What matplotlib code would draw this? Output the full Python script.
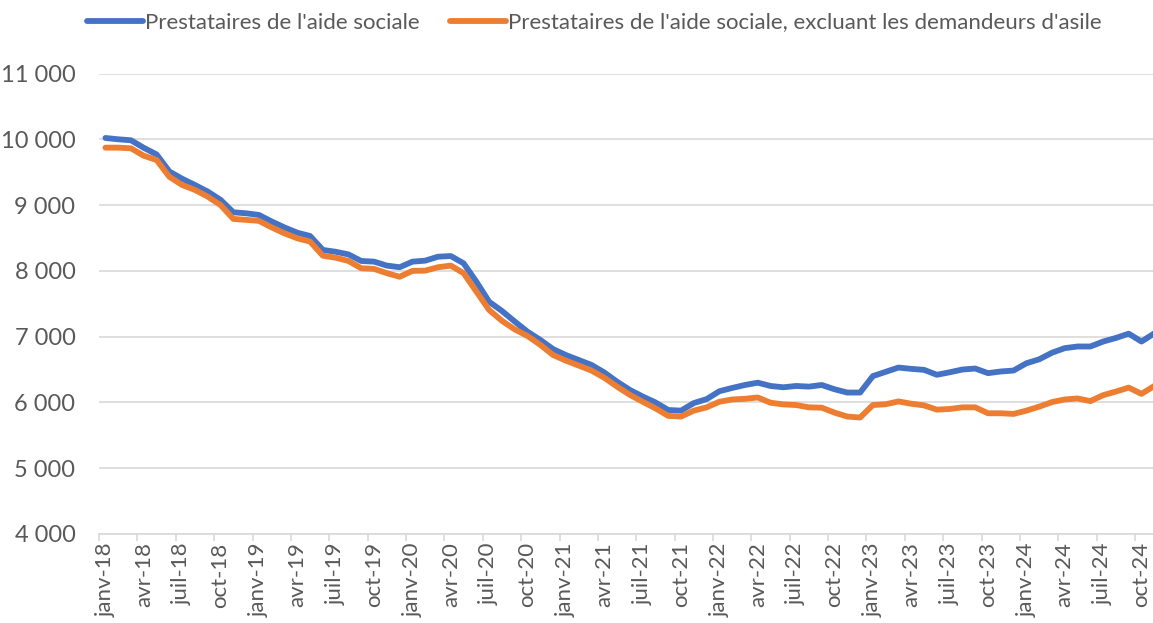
import numpy as np
import matplotlib.pyplot as plt
from matplotlib.ticker import FuncFormatter, FixedLocator

# monthly series, janv-18 .. nov-24
mois = ['janv', 'févr', 'mars', 'avr', 'mai', 'juin',
        'juil', 'août', 'sept', 'oct', 'nov', 'déc']
periodes = [f"{mois[i % 12]}-{18 + i // 12}" for i in range(83)]

aide_sociale = [
    10020, 10000, 9985, 9870, 9770, 9510, 9400, 9305, 9205, 9080, 8890, 8875,
    8850, 8750, 8660, 8580, 8530, 8318, 8290, 8250, 8150, 8140, 8080, 8055,
    8140, 8155, 8215, 8225, 8115, 7835, 7530, 7390, 7230, 7075, 6950, 6810,
    6720, 6645, 6570, 6455, 6315, 6190, 6090, 6000, 5885, 5875, 5990, 6050,
    6170, 6220, 6265, 6300, 6250, 6230, 6250, 6240, 6265, 6200, 6150, 6150,
    6400, 6465, 6530, 6510, 6495, 6420, 6458, 6500, 6515, 6445, 6470, 6485,
    6595, 6655, 6755, 6825, 6850, 6850, 6925, 6980, 7045, 6925, 7050,
]
sans_asile = [
    9873, 9873, 9863, 9750, 9685, 9430, 9305, 9230, 9128, 9000, 8790, 8775,
    8760, 8660, 8570, 8495, 8445, 8230, 8200, 8150, 8040, 8030, 7965, 7910,
    8000, 8003, 8055, 8080, 7965, 7685, 7405, 7240, 7110, 7010, 6875, 6720,
    6635, 6560, 6485, 6375, 6240, 6115, 6010, 5910, 5795, 5785, 5875, 5925,
    6010, 6045, 6055, 6075, 5995, 5970, 5960, 5925, 5920, 5845, 5785, 5770,
    5960, 5972, 6015, 5980, 5955, 5890, 5900, 5925, 5925, 5835, 5835, 5825,
    5875, 5935, 6005, 6045, 6060, 6020, 6110, 6165, 6225, 6130, 6250,
]
noms = ["Prestataires de l'aide sociale",
        "Prestataires de l'aide sociale, excluant les demandeurs d'asile"]

plt.rcParams['font.family'] = ['Lato', 'DejaVu Sans']

fig = plt.figure(figsize=(11.53, 6.23), dpi=100)
ax = fig.add_axes([0.0859, 0.1429, 0.9141, 0.7391])

x = np.arange(len(periodes))
ax.plot(x, aide_sociale, color='#4472C4', lw=4.2, solid_capstyle='round',
        label=noms[0])
ax.plot(x, sans_asile, color='#ED7D31', lw=4.2, solid_capstyle='round',
        label=noms[1])

ax.set_xlim(-0.5, 81.9)
ax.set_ylim(4000, 11000)
ax.set_yticks(np.arange(4000, 11001, 1000))
ax.yaxis.set_major_formatter(
    FuncFormatter(lambda v, p: f"{int(v):,}".replace(',', ' ')))
ax.grid(axis='y', color='#d9d9d9', lw=1.2)
ax.set_axisbelow(True)

# labels every 3rd month, ticks on category boundaries
ax.set_xticks(x[::3])
ax.set_xticklabels(periodes[::3], rotation=90)
ax.xaxis.set_minor_locator(FixedLocator(np.arange(-0.5, 83, 3)))
ax.tick_params(axis='x', which='major', length=0, pad=6, labelsize=16)
ax.tick_params(axis='x', which='minor', length=5, color='#d9d9d9', width=1.2)
ax.tick_params(axis='y', length=0, pad=17, labelsize=17)
ax.tick_params(labelcolor='#595959')

for s in ['top', 'right', 'left']:
    ax.spines[s].set_visible(False)
ax.spines['bottom'].set_color('#d9d9d9')
ax.spines['bottom'].set_linewidth(1.2)

fig.legend(loc='upper center', bbox_to_anchor=(0.5156, 1.012), ncol=2,
           frameon=False, fontsize=16, labelcolor='#595959',
           handlelength=2.5, handletextpad=0.12, columnspacing=1.35)

fig.savefig('out.png', dpi=100)
